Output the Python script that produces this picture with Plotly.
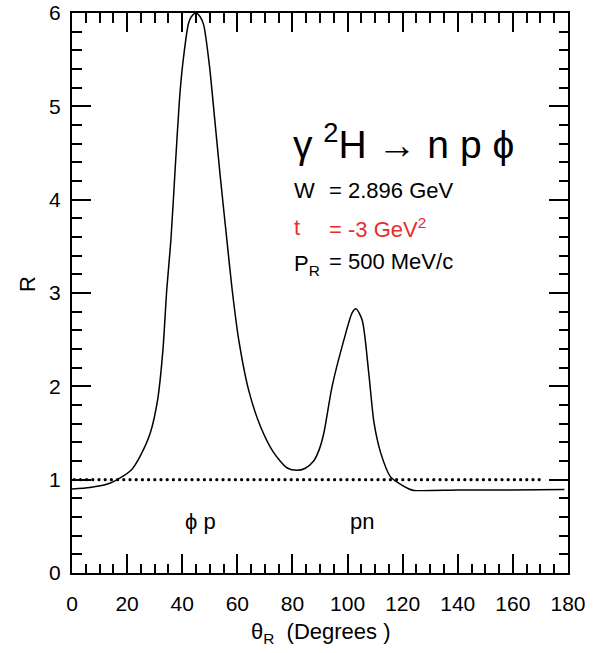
import numpy as np
import plotly.graph_objects as go

# ---- data ----
theta = [0.0, 6.5, 12.6, 17.5, 21.7, 24.7, 28.4, 31.1, 33.0, 34.4, 35.9, 37.5, 39.0,
         40.1, 42.3, 43.3, 45.0, 46.5, 47.8, 49.9, 51.7, 53.8, 56.2, 58.1, 60.5, 64.1,
         68.4, 73.2, 78.1, 81.7, 84.5, 87.7, 89.8, 91.4, 94.4, 98.7, 101.7, 103.1,
         105.3, 107.7, 109.6, 112.0, 115.6, 118.7, 122.3, 124.1, 140.0, 160.0, 178.7]
ratio = [0.90, 0.917, 0.95, 1.02, 1.11, 1.25, 1.50, 1.86, 2.39, 3.04, 3.57, 4.36, 5.07,
         5.43, 5.89, 5.96, 6.00, 5.96, 5.87, 5.43, 4.89, 4.25, 3.57, 3.04, 2.50, 1.96,
         1.57, 1.29, 1.125, 1.10, 1.12, 1.20, 1.33, 1.50, 2.00, 2.50, 2.79, 2.83,
         2.71, 2.14, 1.61, 1.29, 1.03, 0.96, 0.90, 0.885, 0.888, 0.89, 0.895]

ref_level = 1.0
ref_start, ref_end, ref_step = 0.8, 170.5, 2.25

x_ticks = [0, 20, 40, 60, 80, 100, 120, 140, 160, 180]
y_ticks = [0, 1, 2, 3, 4, 5, 6]

FONT = "Liberation Sans, Arial, Helvetica, sans-serif"
RED = "rgb(232,45,45)"

fig = go.Figure()

ref_x = np.arange(ref_start, ref_end, ref_step)
fig.add_trace(go.Scatter(x=ref_x, y=np.full(len(ref_x), ref_level), mode="markers",
                         marker=dict(size=3.2, color="black", symbol="circle"),
                         hoverinfo="skip", showlegend=False))

fig.add_trace(go.Scatter(x=theta, y=ratio, mode="lines",
                         line=dict(color="black", width=1.5, shape="spline", smoothing=0.7),
                         showlegend=False))

axis_common = dict(showline=True, linecolor="black", linewidth=2, mirror="ticks",
                   ticks="inside", tickcolor="black", tickwidth=1.5, ticklen=19,
                   showgrid=False, zeroline=False, automargin=False,
                   tickfont=dict(family=FONT, size=21, color="black"))

fig.update_xaxes(range=[0, 180], tickvals=x_ticks,
                 minor=dict(dtick=5, ticks="inside", ticklen=9.5, tickwidth=1.5,
                            tickcolor="black", showgrid=False),
                 ticklabelstandoff=11, **axis_common)
fig.update_yaxes(range=[0, 6], tickvals=y_ticks,
                 minor=dict(dtick=0.2, ticks="inside", ticklen=9.5, tickwidth=1.5,
                            tickcolor="black", showgrid=False),
                 ticklabelstandoff=5, **axis_common)

ann = []
def txt(x, y, s, size=22, color="black", xanchor="left", xref="x", yref="y", angle=0):
    ann.append(dict(x=x, y=y, xref=xref, yref=yref, text=s, showarrow=False,
                    xanchor=xanchor, yanchor="middle", textangle=angle,
                    font=dict(family=FONT, size=size, color=color)))

txt(79.3, 4.62, "γ <sup>2</sup>H → n p ϕ", size=39)
txt(80.0, 4.10, "W")
txt(92.5, 4.10, "= 2.896 GeV")
txt(80.0, 3.70, "t", color=RED)
txt(92.5, 3.70, "= -3 GeV<sup>2</sup>", color=RED)
txt(80.0, 3.30, "P<sub>R</sub>")
txt(92.5, 3.34, "= 500 MeV/c")
txt(46.5, 0.55, "ϕ p", xanchor="center")
txt(105.4, 0.55, "pn", xanchor="center")
txt(-0.091, 0.516, "R", xanchor="center", xref="paper", yref="paper", angle=-90)
txt(0.502, -0.107, "θ<sub>R</sub>\u00a0\u00a0(Degrees )", xanchor="center",
    xref="paper", yref="paper")

fig.update_layout(width=604, height=653, margin=dict(l=72, r=36, t=13, b=80, autoexpand=False),
                  plot_bgcolor="white", paper_bgcolor="white",
                  annotations=ann, font=dict(family=FONT))

fig.write_html("out.html")
